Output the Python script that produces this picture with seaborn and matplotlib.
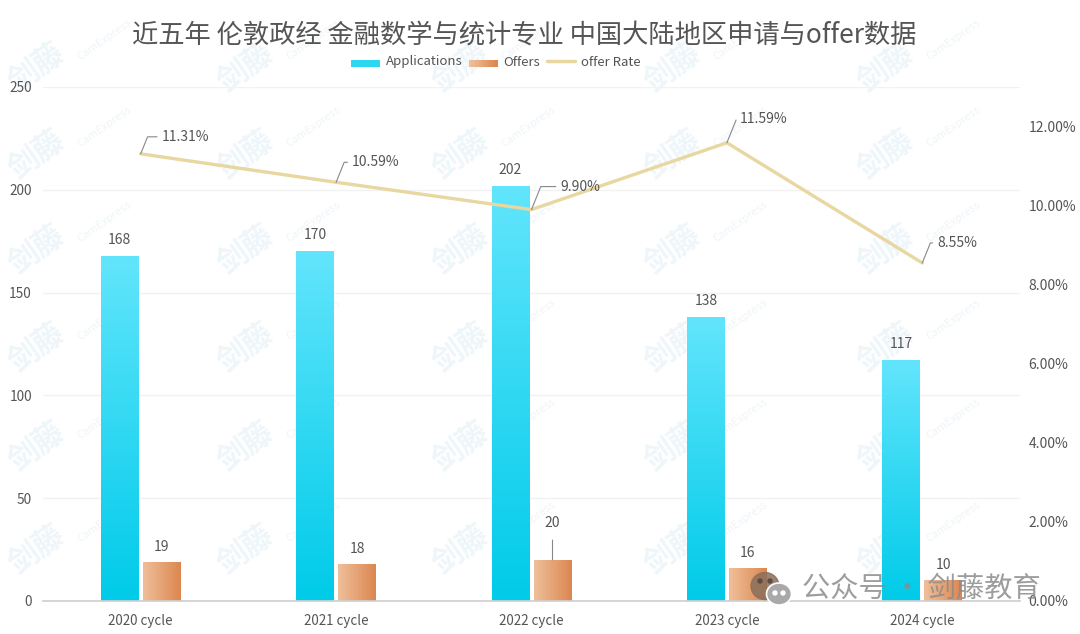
import matplotlib
matplotlib.use("Agg")
import matplotlib.pyplot as plt
import numpy as np
import pandas as pd
import seaborn as sns
from matplotlib.colors import LinearSegmentedColormap
from matplotlib.legend_handler import HandlerBase
from matplotlib.lines import Line2D
from matplotlib.patches import Ellipse, Patch, Rectangle

cycles = ["2020 cycle", "2021 cycle", "2022 cycle", "2023 cycle", "2024 cycle"]
applications = [168, 170, 202, 138, 117]
offers = [19, 18, 20, 16, 10]
offer_rate = [11.31, 10.59, 9.90, 11.59, 8.55]

TITLE = "近五年 伦敦政经 金融数学与统计专业 中国大陆地区申请与offer数据"
W, H = 1080, 634
TEXT = "#555555"
LINE = "#e8d7a0"
RATE_LABEL_OFFSETS = [(21, 17), (16, 20), (29, 23), (13, 24), (15, 20)]

app_cmap = LinearSegmentedColormap.from_list("app", ["#62e5fc", "#00cbe9"])
off_cmap = LinearSegmentedColormap.from_list("off", ["#efbf9a", "#dc8750"])

sns.set_theme(style="white")
plt.rcParams["font.family"] = ["Noto Sans CJK SC", "DejaVu Sans"]


class GradientHandle(HandlerBase):
    def __init__(self, cmap, flip=False):
        super().__init__()
        self.cmap = cmap
        self.flip = flip

    def create_artists(self, legend, orig, x0, y0, width, height, fontsize, trans):
        parts = []
        n = 12
        for i in range(n):
            c = self.cmap(0.55 if self.flip else i / (n - 1))
            parts.append(Rectangle((x0 + width * i / n, y0), width / n + 0.3, height,
                                   facecolor=c, edgecolor="none", transform=trans))
        return parts


def add_watermark(fig):
    for x in [36, 245, 460, 672, 885]:
        for y in [68, 155, 250, 348, 447, 550]:
            fig.text(x / W, 1 - y / H, "剑藤", fontsize=22, color="#eef6fa", rotation=35,
                     ha="center", va="center", zorder=-2, fontweight="bold")
            fig.text((x + 68) / W, 1 - (y - 28) / H, "CamExpress", fontsize=8, color="#eff5f8",
                     rotation=35, ha="center", va="center", zorder=-2)


def add_account_mark(fig):
    fig.text(802 / W, 1 - 589 / H, "公众号 · 剑藤教育", fontsize=20.3, color="#8c8c8c",
             alpha=0.85, ha="left", va="center", zorder=10)
    fig.add_artist(Ellipse((765 / W, 1 - 586 / H), 28 / W, 27 / H, color="#8a6f5c", alpha=0.85, zorder=10))
    fig.add_artist(Ellipse((779 / W, 1 - 594 / H), 25 / W, 22 / H, facecolor="#a9a9a9",
                           edgecolor="white", linewidth=1.2, zorder=11))
    for cx, cy, col in [(760, 581, "#5f4d40"), (770, 581, "#5f4d40"), (775, 593, "white"), (783, 593, "white")]:
        fig.add_artist(Ellipse((cx / W, 1 - cy / H), 4 / W, 4 / H, color=col, zorder=12))


def paint_gradients(ax, bars, cmap, vertical):
    grad = np.linspace(0, 1, 128)
    grad = grad[:, None] if vertical else grad[None, :]
    for bar in bars:
        box = bar.get_bbox()
        origin = "upper" if vertical else "lower"
        img = ax.imshow(grad, cmap=cmap, aspect="auto", origin=origin, zorder=2,
                        extent=[box.x0, box.x1, box.y0, box.y1])
        img.set_clip_path(bar)
        bar.set_facecolor("none")


def main():
    frame = pd.DataFrame({"cycle": cycles, "Applications": applications, "Offers": offers})
    long_frame = frame.melt(id_vars="cycle", var_name="series", value_name="count")
    rate_frame = pd.DataFrame({"cycle": cycles, "rate": offer_rate})

    fig = plt.figure(figsize=(W / 100, H / 100), dpi=100)
    fig.patch.set_facecolor("white")
    ax = fig.add_axes([43 / W, 1 - 601 / H, 977 / W, 514 / H])
    ax.patch.set_alpha(0)

    sns.barplot(data=long_frame, x="cycle", y="count", hue="series", width=0.43, gap=0.1,
                dodge=True, legend=False, ax=ax, zorder=2, linewidth=0)
    app_bars = ax.containers[0]
    off_bars = ax.containers[1]
    paint_gradients(ax, app_bars, app_cmap, True)
    paint_gradients(ax, off_bars, off_cmap, False)

    ax.set_xlim(-0.5, 4.5)
    ax.set_ylim(0, 250)
    ax.set_xlabel("")
    ax.set_ylabel("")
    ax.set_yticks([0, 50, 100, 150, 200, 250])
    ax.grid(axis="y", color="#f2f2f2", linewidth=1, zorder=0)
    ax.set_axisbelow(True)
    ax.tick_params(axis="y", length=0, pad=8, labelsize=9.8, labelcolor=TEXT)
    ax.tick_params(axis="x", length=0, pad=9, labelsize=9.6, labelcolor=TEXT)
    for name, spine in ax.spines.items():
        spine.set_visible(name == "bottom")
    ax.spines["bottom"].set_color("#d0d0d0")

    for bar, val in zip(app_bars, applications):
        ax.annotate(str(val), (bar.get_x() + bar.get_width() / 2, val), xytext=(0, 16),
                    textcoords="offset pixels", ha="center", va="center",
                    fontsize=10, color=TEXT, zorder=5)
    for bar, val in zip(off_bars, offers):
        lift = 37 if val == 20 else 15
        ax.annotate(str(val), (bar.get_x() + bar.get_width() / 2, val), xytext=(0, lift),
                    textcoords="offset pixels", ha="center", va="center",
                    fontsize=10, color=TEXT, zorder=5,
                    arrowprops=dict(arrowstyle="-", color="#888888", lw=0.8, shrinkA=5, shrinkB=0)
                    if val == 20 else None)

    rate_ax = ax.twinx()
    rate_ax.patch.set_alpha(0)
    sns.lineplot(data=rate_frame, x="cycle", y="rate", sort=False, color=LINE, linewidth=2.4,
                 ax=rate_ax, errorbar=None, zorder=4)
    rate_ax.set_ylim(0, 13)
    rate_ax.set_xlim(-0.5, 4.5)
    rate_ax.set_ylabel("")
    rate_ax.set_yticks([0, 2, 4, 6, 8, 10, 12])
    rate_ax.set_yticklabels([f"{t:.2f}%" for t in [0, 2, 4, 6, 8, 10, 12]])
    rate_ax.tick_params(axis="y", length=0, pad=6, labelsize=10, labelcolor=TEXT)
    rate_ax.grid(False)
    for spine in rate_ax.spines.values():
        spine.set_visible(False)

    for i, val in enumerate(offer_rate):
        rate_ax.annotate(f"{val:.2f}%", (i, val), xytext=RATE_LABEL_OFFSETS[i], textcoords="offset pixels",
                         ha="left", va="center", fontsize=10, color=TEXT, zorder=6,
                         arrowprops=dict(arrowstyle="-", color="#888888", lw=0.8, shrinkA=1, shrinkB=0,
                                         connectionstyle="angle,angleA=0,angleB=68,rad=0"))

    add_watermark(fig)
    add_account_mark(fig)

    fig.text(524 / W, 1 - 35 / H, TITLE, fontsize=18.95, color=TEXT, ha="center", va="center")

    handles = [Patch(label="Applications"), Patch(label="Offers"),
               Line2D([], [], color=LINE, linewidth=2.5, label="offer Rate")]
    fig.legend(handles=handles, loc="center", bbox_to_anchor=(496 / W, 1 - 62 / H), ncol=3,
               frameon=False, fontsize=9.5, labelcolor=TEXT, columnspacing=0.5, handletextpad=0.45,
               handlelength=2.15, handleheight=0.45,
               handler_map={handles[0]: GradientHandle(app_cmap, flip=True),
                            handles[1]: GradientHandle(off_cmap)})

    fig.savefig("out.png", dpi=100)
    plt.close(fig)


if __name__ == "__main__":
    main()
